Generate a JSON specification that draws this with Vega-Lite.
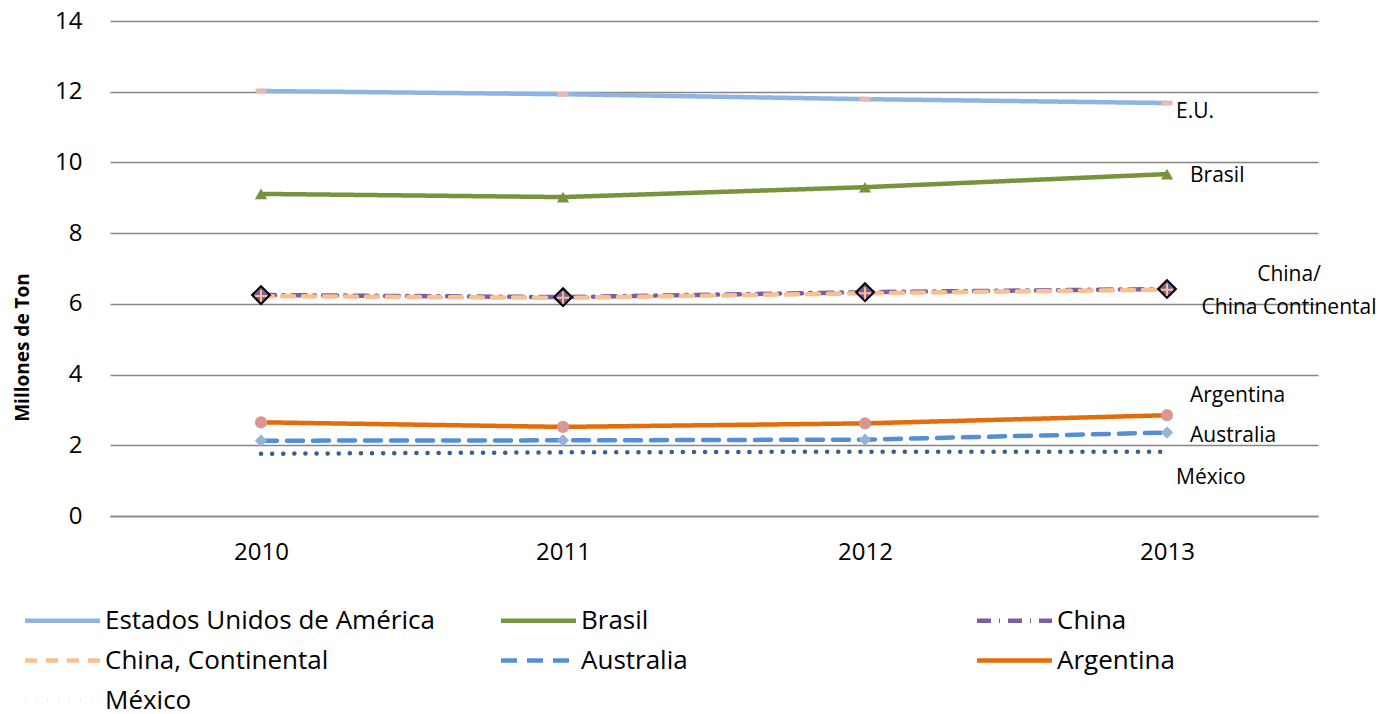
{
  "$schema": "https://vega.github.io/schema/vega-lite/v6.json",
  "width": 1208,
  "height": 495,
  "autosize": {"type": "none"},
  "padding": {"left": 110, "top": 21, "right": 70, "bottom": 198},
  "background": "white",
  "config": {"view": {"stroke": null}, "font": "Open Sans"},
  "data": {
    "values": [
      {"series": "Estados Unidos de América", "year": "2010", "value": 12.02},
      {"series": "Estados Unidos de América", "year": "2011", "value": 11.93},
      {"series": "Estados Unidos de América", "year": "2012", "value": 11.79},
      {"series": "Estados Unidos de América", "year": "2013", "value": 11.68},
      {"series": "Brasil", "year": "2010", "value": 9.11},
      {"series": "Brasil", "year": "2011", "value": 9.02},
      {"series": "Brasil", "year": "2012", "value": 9.3},
      {"series": "Brasil", "year": "2013", "value": 9.67},
      {"series": "China", "year": "2010", "value": 6.25},
      {"series": "China", "year": "2011", "value": 6.19},
      {"series": "China", "year": "2012", "value": 6.33},
      {"series": "China", "year": "2013", "value": 6.42},
      {"series": "China, Continental", "year": "2010", "value": 6.22},
      {"series": "China, Continental", "year": "2011", "value": 6.17},
      {"series": "China, Continental", "year": "2012", "value": 6.3},
      {"series": "China, Continental", "year": "2013", "value": 6.4},
      {"series": "Australia", "year": "2010", "value": 2.13},
      {"series": "Australia", "year": "2011", "value": 2.14},
      {"series": "Australia", "year": "2012", "value": 2.16},
      {"series": "Australia", "year": "2013", "value": 2.36},
      {"series": "Argentina", "year": "2010", "value": 2.65},
      {"series": "Argentina", "year": "2011", "value": 2.52},
      {"series": "Argentina", "year": "2012", "value": 2.62},
      {"series": "Argentina", "year": "2013", "value": 2.85},
      {"series": "México", "year": "2010", "value": 1.76},
      {"series": "México", "year": "2011", "value": 1.8},
      {"series": "México", "year": "2012", "value": 1.82},
      {"series": "México", "year": "2013", "value": 1.82}
    ]
  },
  "encoding": {
    "x": {
      "field": "year", "type": "ordinal",
      "scale": {"type": "point", "padding": 0.5},
      "axis": {"title": null, "labelAngle": 0, "domain": true, "domainColor": "#868686", "domainWidth": 1.5, "ticks": false, "grid": false, "labelFontSize": 24, "labelColor": "#000000", "labelPadding": 24}
    },
    "y": {
      "field": "value", "type": "quantitative",
      "scale": {"domain": [0, 14], "nice": false},
      "axis": {"values": [0, 2, 4, 6, 8, 10, 12, 14], "grid": true, "gridColor": "#868686", "gridWidth": 1.5, "domain": false, "ticks": false, "labelFontSize": 24, "labelColor": "#000000", "labelPadding": 28, "title": "Millones de Ton", "titleFontSize": 19, "titleFontWeight": "bold", "titleColor": "#000000", "titleX": -88, "titleY": 326, "titleAlign": "center", "titleBaseline": "middle"}
    }
  },
  "layer": [
    {
      "mark": {"type": "line", "strokeCap": "round", "strokeWidth": 4.5},
      "encoding": {
        "color": {
          "field": "series", "type": "nominal",
          "scale": {
            "domain": ["Estados Unidos de América", "Brasil", "China", "China, Continental", "Australia", "Argentina", "México"],
            "range": ["#8DB4E2", "#77933C", "#7A5FA0", "#FAC090", "#558ED5", "#E46C0A", "#376092"]
          },
          "legend": {"title": null, "orient": "none", "legendX": -65, "legendY": 582, "direction": "horizontal", "columns": 3, "gridAlign": "all", "columnPadding": 57, "rowPadding": 9, "symbolType": "M-2.5,0L2.5,0", "symbolSize": 900, "symbolStrokeWidth": 4.5, "labelFontSize": 26, "labelColor": "#000000", "labelOffset": 25, "labelLimit": 500}
        },
        "strokeDash": {
          "field": "series", "type": "nominal",
          "scale": {
            "domain": ["Estados Unidos de América", "Brasil", "China", "China, Continental", "Australia", "Argentina", "México"],
            "range": [[1, 0], [1, 0], [14, 8, 1, 8], [12, 9], [16, 10], [1, 0], [0.1, 11]]
          },
          "legend": {"title": null, "orient": "none", "legendX": -65, "legendY": 582, "direction": "horizontal", "columns": 3, "gridAlign": "all", "columnPadding": 57, "rowPadding": 9, "symbolType": "M-2.5,0L2.5,0", "symbolSize": 900, "symbolStrokeWidth": 4.5, "labelFontSize": 26, "labelColor": "#000000", "labelOffset": 25, "labelLimit": 500}
        }
      }
    },
    {
      "transform": [{"filter": "datum.series === 'Estados Unidos de América'"}],
      "mark": {"type": "point", "shape": "M-1,-0.45L1,-0.45L1,0.45L-1,0.45Z", "size": 121, "filled": true, "fill": "#E6B9B8", "opacity": 1}
    },
    {
      "transform": [{"filter": "datum.series === 'Brasil'"}],
      "mark": {"type": "point", "shape": "triangle-up", "size": 150, "filled": true, "fill": "#77933C", "opacity": 1}
    },
    {
      "transform": [{"filter": "datum.series === 'China'"}],
      "mark": {"type": "point", "shape": "diamond", "size": 320, "filled": true, "fill": "#7A5FA0", "stroke": "#000000", "strokeWidth": 2, "opacity": 1}
    },
    {
      "transform": [{"filter": "datum.series === 'China, Continental'"}],
      "mark": {"type": "point", "shape": "M-1,0L1,0M0,-1L0,1", "size": 144, "filled": false, "stroke": "#FAC090", "strokeWidth": 2, "opacity": 1}
    },
    {
      "transform": [{"filter": "datum.series === 'Australia'"}],
      "mark": {"type": "point", "shape": "diamond", "size": 150, "filled": true, "fill": "#95B3D7", "opacity": 1}
    },
    {
      "transform": [{"filter": "datum.series === 'Argentina'"}],
      "mark": {"type": "point", "shape": "circle", "size": 150, "filled": true, "fill": "#D99694", "opacity": 1}
    },
    {
      "data": {"values": [
        {"label": "Brasil", "year": "2013", "value": 9.62},
        {"label": "Argentina", "year": "2013", "value": 3.4},
        {"label": "Australia", "year": "2013", "value": 2.26}
      ]},
      "mark": {"type": "text", "align": "left", "baseline": "middle", "dx": 23, "fontSize": 21, "color": "#000000"},
      "encoding": {"text": {"field": "label"}}
    },
    {
      "data": {"values": [
        {"label": "E.U.", "year": "2013", "value": 11.43},
        {"label": "México", "year": "2013", "value": 1.08}
      ]},
      "mark": {"type": "text", "align": "left", "baseline": "middle", "dx": 9, "fontSize": 21, "color": "#000000"},
      "encoding": {"text": {"field": "label"}}
    },
    {
      "data": {"values": [
        {"label": "China/", "year": "2013", "value": 6.82},
        {"label": "China Continental", "year": "2013", "value": 5.89}
      ]},
      "mark": {"type": "text", "align": "center", "baseline": "middle", "dx": 122, "fontSize": 21, "color": "#000000"},
      "encoding": {"text": {"field": "label"}}
    }
  ]
}
